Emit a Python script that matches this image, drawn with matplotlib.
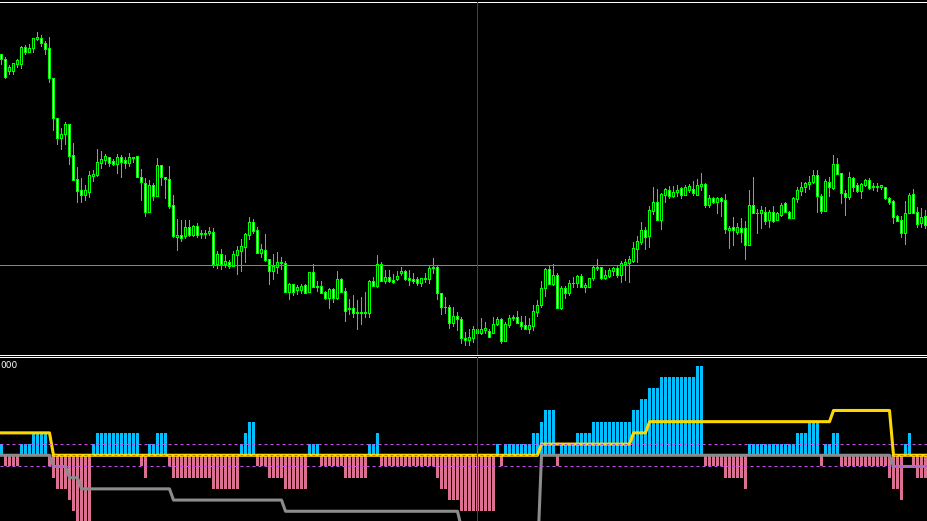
import matplotlib.pyplot as plt
import numpy as np

# price values (arbitrary units, no price scale is shown)
open_ = [
    345.7, 341, 329.3, 329.3, 335.7, 335.7, 352.7, 348.3, 351.7, 360.7,
    361.7, 356.7, 351.7, 321.7, 281.7, 261.7, 265.7, 275.7, 245, 221,
    210, 205, 208.3, 224.3, 225, 237.3, 240, 242.7, 239, 235.7,
    242.7, 240, 236.7, 242.7, 244, 223.3, 216.7, 188.3, 215, 204.3,
    235, 222.7, 221, 195, 163.3, 165, 164.3, 173.3, 165, 174,
    165.7, 166.7, 166.7, 167.7, 135.7, 146, 135.7, 138.3, 134.3, 145,
    149.3, 153.3, 165, 177.7, 170, 147.3, 150, 141, 129.3, 133.3,
    137.7, 136.7, 108.3, 116, 110, 110, 115, 108.3, 127.7, 113.3,
    114, 107.7, 102.3, 111, 102.3, 121, 109, 90.7, 91.7, 86.7,
    87.7, 86.7, 87.3, 119, 114, 135.7, 119, 122.7, 120, 121,
    126.7, 129, 121.7, 121, 121, 117.3, 121, 121, 132.7, 132.7,
    106.7, 92.7, 92.7, 77.3, 84, 81, 61.7, 60, 62.3, 70.7,
    66.7, 70, 69, 67.3, 75.7, 80.7, 59.3, 75, 81.7, 82.7,
    77.7, 75, 71, 74.3, 88.3, 95, 111.7, 131, 115.7, 125,
    91.7, 112.3, 107.3, 116.7, 116.7, 124, 113.3, 113.3, 122.3, 133.3,
    133.3, 122.3, 124.3, 129.3, 132.3, 125, 135.7, 137.3, 139, 151,
    158.3, 170, 164.3, 189.3, 197.7, 180, 205, 210, 204, 208.3,
    211.7, 205, 210, 210.7, 205, 214.3, 216, 195, 201.7, 198.3,
    201.7, 200, 170, 172.7, 168.3, 171.7, 171.7, 155, 195, 186.7,
    186.7, 188.3, 180, 187.7, 180, 185, 197.3, 188.3, 181.7, 201,
    209.3, 212.7, 216, 217.7, 225, 204.3, 189, 217.7, 211.7, 236,
    226.7, 206.7, 203.3, 221.7, 215, 209.3, 215, 220, 212.7, 214,
    213.3, 212.7, 201.7, 199, 184.3, 180, 167.3, 186.7, 206, 187.7,
    176.7, 184,
]
high = [
    345.7, 342.7, 335, 337.3, 341, 354, 355, 356, 362.3, 368.3,
    365, 359, 362.7, 321.7, 281.7, 271.7, 277.7, 275.7, 256.7, 232.7,
    221.7, 215, 229.3, 230, 251, 249.3, 246, 243.3, 241, 246,
    245, 242.7, 247.3, 242.7, 244, 231, 221.7, 220, 216.7, 242.3,
    235, 223.3, 234, 205, 181, 180, 180, 180, 175, 176.7,
    170, 170, 173.3, 171.7, 149, 151, 145, 140, 149.3, 154,
    161, 167.3, 182.7, 181, 173.3, 156, 166, 141, 146, 148.3,
    142.7, 139.3, 117.3, 116, 115, 116, 116, 127.7, 135.7, 119,
    119, 109.3, 111.7, 112.3, 129, 122.3, 111.7, 101, 105, 100,
    102.7, 107.7, 120, 122.7, 145, 137.7, 130, 130, 126, 129,
    133.3, 130, 130, 127.3, 123.3, 122.3, 127.3, 134.3, 141.7, 135,
    106.7, 102.7, 95, 92.7, 88.3, 82.7, 67.7, 71, 74, 71.7,
    81.7, 78.3, 71, 82.7, 82.7, 81.7, 78.3, 85, 85, 89,
    84, 84, 81.7, 95, 100, 119, 132.3, 134, 135.7, 127.3,
    114, 114, 120, 123.3, 125, 125.7, 117.3, 122.3, 135, 141,
    133.3, 130, 132.3, 133.3, 135, 139, 141, 144, 158.3, 164,
    178.3, 173.3, 194, 212.7, 211, 206.7, 211.7, 214.3, 214.3, 215,
    212.7, 215, 216, 219, 221, 226.7, 216.7, 205, 203.3, 203.3,
    203.3, 206, 174, 183.3, 177.3, 182.3, 179.3, 210, 223.3, 190.7,
    194, 193.3, 190, 194, 188.3, 197.3, 198.3, 189.3, 202.7, 212.7,
    217.7, 218.3, 224.3, 230, 230, 206, 220.7, 222.7, 245, 241.7,
    226.7, 210, 228.3, 222.7, 217.3, 217.3, 221, 221.7, 216.7, 216.7,
    215, 213.3, 203.3, 200, 185, 184, 199, 207.3, 210.7, 192.7,
    191.7, 190,
]
low = [
    335.7, 322.3, 325.7, 326, 333.3, 332.3, 346.3, 348.3, 348.3, 360,
    354.3, 346, 318.3, 270, 256, 251, 256, 235.7, 220, 198.3,
    198.3, 200, 203.3, 219, 224.3, 232.3, 236, 234.3, 235, 226.7,
    223.3, 232.3, 234.3, 237.7, 223.3, 200, 184.3, 188.3, 200, 204.3,
    215, 201.7, 192.3, 163.3, 150, 159, 161.7, 164.3, 164, 163.3,
    161.7, 161.7, 165, 133.3, 132.3, 130.7, 133.3, 132.3, 134.3, 126,
    129.3, 138.3, 161, 167.3, 147.3, 142.7, 139.3, 116, 121, 127.3,
    131, 108.3, 101, 105, 106, 106.7, 106.7, 108.3, 113.3, 109,
    106.7, 101, 92.3, 97.7, 101, 108.3, 79.3, 86, 82.7, 71,
    76, 82.7, 82.7, 114, 113.3, 119, 116.7, 117.7, 116.7, 120,
    125, 120, 115, 116.7, 115, 114, 117.7, 116.7, 126.7, 101,
    86, 87.3, 72.3, 74, 70, 56.7, 55, 55, 58.3, 65,
    66, 66.7, 62.7, 67.3, 75, 56.7, 59.3, 73.3, 80, 76.7,
    70.7, 70.7, 66.7, 70, 84.3, 92.7, 104.3, 115.7, 115, 91.7,
    90.7, 101.7, 105, 113.3, 112.7, 112.7, 108.3, 112.7, 120, 130,
    120.7, 121, 123.3, 125, 123.3, 118.3, 120, 118.3, 138.3, 138.3,
    155.7, 151, 153.3, 186, 180, 171, 198.3, 201.7, 203.3, 204,
    201.7, 205, 208.3, 205, 205, 210, 192.7, 192.7, 196.7, 187.3,
    184, 167.3, 152.3, 155, 166, 158.3, 141, 155, 186.7, 167.3,
    171.7, 176, 173.3, 178.3, 180, 184.3, 188.3, 181.7, 181.7, 198.3,
    205, 208.3, 211, 216.7, 188.3, 186.7, 189, 204.3, 210.7, 226,
    197.3, 185, 200.7, 209.3, 208.3, 202.3, 214.3, 211, 210, 209.3,
    211, 200.7, 196, 177.3, 179, 162.7, 155.7, 186.7, 186.7, 172.7,
    172.7, 171.7,
]
close = [
    340.7, 323.3, 333.3, 336.7, 340, 352.7, 348.3, 351.7, 361.7, 362.7,
    356.7, 350.7, 321.7, 282.3, 261.7, 266, 275.7, 244.3, 220, 209.3,
    205, 210, 225, 226, 237.7, 240.7, 244, 237.3, 235.7, 242.7,
    238.3, 236.7, 242.7, 241.7, 223.3, 217.7, 188.3, 215, 204.3, 235,
    222.7, 221, 194.3, 164.3, 165, 162.3, 172.7, 165, 174, 165,
    167.3, 166, 169, 135.7, 146, 135.7, 139, 134.3, 146, 150,
    154, 166, 177.7, 169.3, 147.3, 150.7, 140, 129.3, 134.3, 137.7,
    136.7, 108.3, 116, 108.3, 112.7, 114, 107.3, 127.7, 113.3, 114,
    107.3, 102.3, 111, 102.3, 121, 108.3, 89.3, 91.7, 86.7, 87.7,
    86.7, 87.7, 119, 114, 135.7, 119, 122.7, 119, 118.3, 124,
    129, 121, 120, 119, 117.3, 121.7, 122.3, 132.3, 131.7, 106.7,
    92.7, 93.3, 76.7, 84, 80.7, 61.7, 60, 63.3, 70.7, 66.7,
    70.7, 71.7, 63.3, 76, 81, 59.3, 76, 81.7, 83.3, 77.3,
    74.3, 71, 75, 89, 95, 111.7, 131, 115.7, 125, 91.7,
    112.3, 106.7, 116.7, 117.3, 124, 113.3, 115, 122.3, 133.3, 131.7,
    122.3, 125, 130, 131.7, 125, 136.7, 138.3, 141, 151.7, 159,
    170, 163.3, 190, 197.7, 180, 206, 210.7, 204, 207.7, 210,
    205, 212.7, 214, 206.7, 215, 216, 195, 201.7, 198.3, 201.7,
    199.3, 171, 172.3, 170, 172.7, 168.3, 155, 195, 186.7, 187.3,
    190, 179.3, 188.3, 179.3, 186.7, 195, 188.3, 182.3, 201.7, 210,
    212.7, 216.7, 217.7, 225, 204.3, 189, 219.3, 212.7, 236, 226,
    206.7, 203.3, 223.3, 213.3, 209.3, 216, 220, 211.7, 214, 213.3,
    215, 201.7, 198.3, 183.3, 179.3, 167.3, 186.7, 205, 186.7, 176,
    182.7, 175,
]

# indicator sub-window
hist = [
    1, -1, -1, -1, -1, 1, 1, 1, 2, 2, 2, 2, -1, -2, -3, -3, -3, -4, -5, -6,
    -6, -6, -6, 1, 2, 2, 2, 2, 2, 2, 2, 2, 2, 2, 2, -1, -2, 1, 1, 2,
    2, 2, -1, -2, -2, -2, -2, -2, -2, -2, -2, -2, -2, -3, -3, -3, -3, -3, -3, -3,
    1, 2, 3, 3, -1, -1, -1, -2, -2, -2, -2, -3, -3, -3, -3, -3, -3, 1, 1, 1,
    -1, -1, -1, -1, -1, -1, -2, -2, -2, -2, -2, -2, 1, 1, 2, -1, -1, -1, -1, -1,
    -1, -1, -1, -1, -1, -1, -1, -1, -1, -2, -3, -3, -4, -4, -4, -5, -5, -5, -5, -5,
    -5, -5, -5, -5, 1, -1, 1, 1, 1, 1, 1, 1, 1, 2, 2, 3, 4, 4, 4, -1,
    1, 1, 1, 1, 2, 2, 2, 2, 3, 3, 3, 3, 3, 3, 3, 3, 3, 3, 4, 4,
    5, 5, 6, 6, 6, 7, 7, 7, 7, 7, 7, 7, 7, 7, 8, 8, -1, -1, -1, -1,
    -1, -2, -2, -2, -2, -2, -3, 1, 1, 1, 1, 1, 1, 1, 1, 1, 1, 1, 1, 2,
    2, 2, 3, 3, 3, -1, 1, 1, 2, 2, -1, -1, -1, -1, -1, -1, -1, -1, -1, -1,
    -1, -1, -2, -3, -3, -4, 1, 2, -1, -2, -2, -2,
]
# step lines as (value, number of bars)
signal_steps = [(2, 13), (0, 122), (1, 23), (2, 4), (3, 46), (4, 15), (0, 9)]
trend_steps = [(0, 13), (-1, 4), (-2, 3), (-3, 23), (-4, 28), (-5, 44),
               (-6.5, 1), (-9, 19), (0, 88), (-1, 9)]
levels = [1, 0, -1]

cross_bar = 119
cross_price = 135.5

LIME = '#00ff00'
PX = 0.72  # one pixel in points at 100 dpi


def expand(steps):
    return np.concatenate([np.full(n, v, dtype=float) for v, n in steps])


def style(ax):
    ax.set_facecolor('black')
    ax.set_xticks([])
    ax.set_yticks([])
    for side in ('left', 'right', 'bottom', 'top'):
        ax.spines[side].set_visible(False)


def main():
    W, H = 927, 521
    fig = plt.figure(figsize=(W / 100, H / 100), dpi=100, facecolor='black')
    ax1 = fig.add_axes([0, (H - 354.5) / H, 1, 353 / H])
    ax2 = fig.add_axes([0, 0, 1, (H - 356.5) / H])
    style(ax1)
    style(ax2)
    for ax in (ax1, ax2):
        ax.spines['top'].set_visible(True)
        ax.spines['top'].set_color('white')
        ax.spines['top'].set_linewidth(PX)
    ax1.spines['bottom'].set_visible(True)
    ax1.spines['bottom'].set_color('white')
    ax1.spines['bottom'].set_linewidth(PX)

    o = np.array(open_)
    c = np.array(close)
    x = np.arange(len(o))
    bull = c >= o

    # candles
    ax1.vlines(x, low, high, color=LIME, lw=PX, zorder=1, antialiased=False)
    ax1.bar(x, np.abs(c - o), bottom=np.minimum(o, c), width=0.5,
            color=np.where(bull, 'black', 'white'), edgecolor=LIME,
            linewidth=PX, zorder=2, antialiased=False)
    ax1.axhline(cross_price, color='#778899', lw=PX, zorder=3)
    ax1.axvline(cross_bar, color='#e00000', lw=PX, zorder=3)
    ax1.set_xlim(-0.375, 231.375)
    ax1.set_ylim(45.5, 398.5)

    # histogram + lines
    h = np.array(hist)
    ax2.bar(x, h, width=0.66, color=np.where(h > 0, '#00bfff', '#db7093'),
            zorder=1, antialiased=False)
    ax2.plot(x, expand(trend_steps), color='#8c8c8c', lw=2.2, zorder=2)
    ax2.plot(x, expand(signal_steps), color='#ffd700', lw=2.2, zorder=3)
    for lv in levels:
        ax2.axhline(lv, color='#c850e8', lw=PX, dashes=(3, 3), zorder=4)
    ax2.axvline(cross_bar, color='#e00000', lw=PX, zorder=5)
    ax2.set_xlim(-0.375, 231.375)
    ax2.set_ylim(-5.87, 8.82)
    ax2.annotate('000', xy=(0, 1), xycoords='axes fraction',
                 xytext=(0, -5), textcoords='offset pixels',
                 ha='left', va='top', color='white', fontsize=6.5)

    fig.savefig('out.png', dpi=100, facecolor='black')


if __name__ == "__main__":
    main()
